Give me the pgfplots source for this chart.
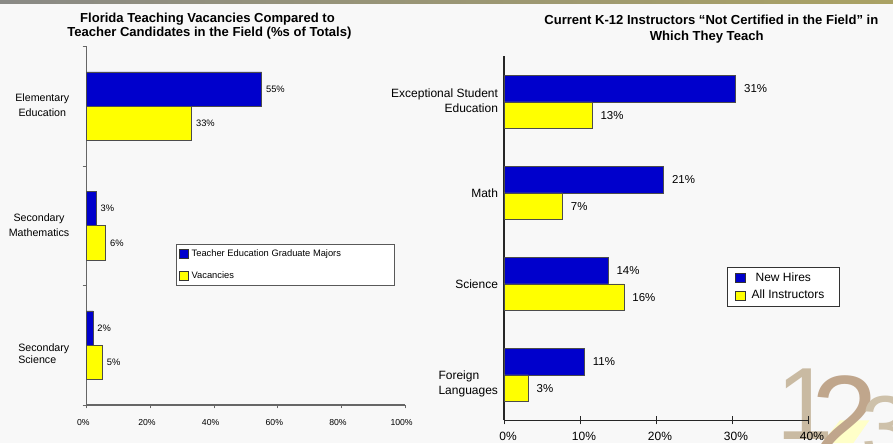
\documentclass[border=0pt]{standalone}
\usepackage{pgfplots}
\pgfplotsset{compat=1.18}
\usepackage{fontspec}
\setmainfont{Liberation Sans}
\definecolor{bg}{RGB}{248,248,248}
\definecolor{barblue}{RGB}{0,0,204}
\definecolor{baryel}{RGB}{255,255,0}
\definecolor{bandL}{RGB}{138,138,134}
\definecolor{bandR}{RGB}{170,162,100}
\definecolor{logoA}{RGB}{201,186,162}
\definecolor{logoB}{RGB}{192,166,140}
\definecolor{logoC}{RGB}{206,193,170}
\definecolor{logoY}{RGB}{255,255,200}
\begin{document}
\begin{tikzpicture}
\useasboundingbox (0,0) rectangle (669.75pt,332.25pt);
\clip (0,0) rectangle (669.75pt,332.25pt);
\fill[bg] (0,0) rectangle (669.75pt,332.25pt);
\shade[left color=bandL, right color=bandR] (0,329.25pt) rectangle (669.75pt,332.25pt);
% decorative logo
\fill[logoY] (616.5pt,0pt) -- (630pt,17pt) -- (652pt,17pt) -- (640pt,0pt) -- cycle;
\node[anchor=base west, inner sep=0pt, text=logoA, font=\fontsize{77}{77}\selectfont] at (582pt,2.5pt) {1};
\node[anchor=base west, inner sep=0pt, text=logoB, font=\fontsize{90}{90}\selectfont] at (608.5pt,-12.5pt) {2};
\node[anchor=base west, inner sep=0pt, text=logoC, font=\fontsize{66}{66}\selectfont] at (646pt,-11pt) {3};
% titles
\node[anchor=base, inner sep=0pt, font=\fontsize{9.8}{11}\selectfont\bfseries] at (155.6pt,315.2pt) {Florida Teaching Vacancies Compared to};
\node[anchor=base, inner sep=0pt, font=\fontsize{9.8}{11}\selectfont\bfseries] at (157pt,305pt) {Teacher Candidates in the Field (\%s of Totals)};
\node[anchor=base, inner sep=0pt, font=\fontsize{9.8}{11}\selectfont\bfseries] at (533.5pt,313.5pt) {Current K-12 Instructors “Not Certified in the Field” in};
\node[anchor=base, inner sep=0pt, font=\fontsize{9.8}{11}\selectfont\bfseries] at (530pt,301.5pt) {Which They Teach};

% left chart
\begin{axis}[
  at={(65pt,28.5pt)}, anchor=south west, scale only axis,
  width=238.7pt, height=268.9pt,
  xbar, xmin=0, xmax=100, ymin=0.5, ymax=3.5,
  axis lines*=left,
  axis line style={draw=black!60, line width=0.8pt},
  tick align=outside,
  xtick={0,20,40,60,80,100},
  xticklabel={\pgfmathprintnumber{\tick}\%},
  /pgf/number format/assume math mode=true,
  xticklabel style={font=\fontsize{6.5}{7}\selectfont, yshift=-5pt, xshift=-2.5pt},
  major tick length=2.5pt,
  minor tick length=3pt,
  major x tick style={draw=black!60, line width=0.6pt},
  ytick={1,2,3},
  minor ytick={0.5,1.5,2.5,3.5},
  major y tick style={draw=none},
  minor y tick style={draw=black!60, line width=0.6pt},
  yticklabels={
    {\fontsize{8}{9}\selectfont\begin{tabular}{@{}l@{}}\rule{0pt}{20.5pt}Secondary\\Science\end{tabular}},
    {\begin{tabular}{@{}c@{}}Secondary\\Mathematics\end{tabular}},
    {\begin{tabular}{@{}c@{}}Elementary\\Education\end{tabular}}},
  yticklabel style={font=\fontsize{8}{11.25}\selectfont, xshift=-7pt},
  legend style={at={(axis description cs:0.2806,0.449)}, anchor=north west,
    draw=black!65, line width=0.7pt, fill=white,
    font=\fontsize{7}{8}\selectfont, inner sep=2pt, row sep=5.5pt},
  legend cell align=left,
  point meta=explicit symbolic,
  nodes near coords,
  every node near coord/.append style={font=\fontsize{7}{8}\selectfont, inner sep=0pt, xshift=3pt, anchor=west},
  bar width=25.7pt,
  clip=false,
]
\addplot[fill=barblue, draw=black!70, line width=0.6pt, bar shift=12.85pt,
  legend image code/.code={\draw[fill=barblue, draw=black!80, line width=0.6pt] (0pt,-3.4pt) rectangle (6.8pt,3.4pt);}]
  coordinates {(2,1) [2\%] (3,2) [3\%] (55,3) [55\%]};
\addlegendentry{\makebox[148pt][l]{Teacher Education Graduate Majors}}
\addplot[fill=baryel, draw=black!70, line width=0.6pt, bar shift=-12.85pt,
  legend image code/.code={\draw[fill=baryel, draw=black!80, line width=0.6pt] (0pt,-3.4pt) rectangle (6.8pt,3.4pt);}]
  coordinates {(5,1) [5\%] (6,2) [6\%] (33,3) [33\%]};
\addlegendentry{\makebox[148pt][l]{Vacancies}}
\end{axis}

% right chart
\begin{axis}[
  at={(378pt,16.9pt)}, anchor=south west, scale only axis,
  width=228pt, height=273pt,
  xbar, xmin=0, xmax=40, ymin=0.5, ymax=4.5,
  axis lines*=left,
  axis line style={draw=black!85, line width=0.8pt},
  tick align=center,
  xtick={0,10,20,30,40},
  xticklabel={\pgfmathprintnumber{\tick}\%},
  /pgf/number format/assume math mode=true,
  xticklabel style={font=\fontsize{9}{10}\selectfont, yshift=-2pt, xshift=3pt},
  major tick length=6pt,
  major x tick style={draw=black!85, line width=0.7pt},
  ytick={1,2,3,4},
  major y tick style={draw=none},
  yticklabels={
    {\begin{tabular}{@{}l@{}}\rule{0pt}{22pt}Foreign\\Languages\end{tabular}},
    {Science},
    {Math},
    {\begin{tabular}{@{}r@{}}Exceptional Student\\Education\hspace{3.75pt}\end{tabular}}},
  yticklabel style={font=\fontsize{9}{11.25}\selectfont, xshift=2pt},
  legend style={at={(axis description cs:0.7336,0.4217)}, anchor=north west,
    draw=black!80, line width=0.7pt, fill=white,
    font=\fontsize{9}{10}\selectfont, inner sep=2pt, row sep=1pt},
  legend cell align=left,
  point meta=explicit symbolic,
  nodes near coords,
  every node near coord/.append style={font=\fontsize{8.6}{9}\selectfont, inner sep=0pt, xshift=6pt, anchor=west},
  bar width=19.9pt,
  clip=false,
]
\addplot[fill=barblue, draw=black!70, line width=0.6pt, bar shift=9.95pt,
  legend image code/.code={\path (0pt,0pt) (13.5pt,0pt); \draw[fill=barblue, draw=black!80, line width=0.6pt] (4pt,-3.4pt) rectangle (10.8pt,3.4pt);}]
  coordinates {(10.6,1) [11\%] (13.7,2) [14\%] (21,3) [21\%] (30.5,4) [31\%]};
\addlegendentry{\makebox[62pt][l]{\hspace{3pt}New Hires}}
\addplot[fill=baryel, draw=black!70, line width=0.6pt, bar shift=-9.95pt,
  legend image code/.code={\path (0pt,0pt) (13.5pt,0pt); \draw[fill=baryel, draw=black!80, line width=0.6pt] (4pt,-3.4pt) rectangle (10.8pt,3.4pt);}]
  coordinates {(3.2,1) [3\%] (15.8,2) [16\%] (7.7,3) [7\%] (11.6,4) [13\%]};
\addlegendentry{\makebox[62pt][l]{All Instructors}}
\end{axis}
\end{tikzpicture}
\end{document}
